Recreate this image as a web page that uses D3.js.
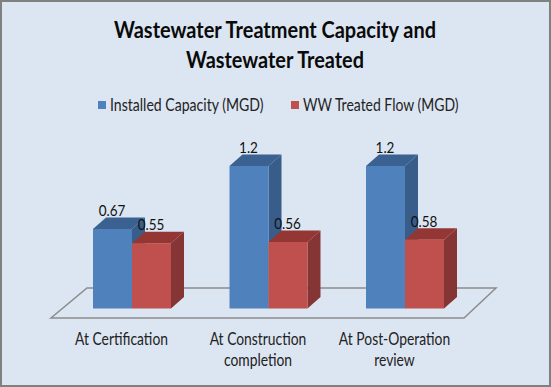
<!DOCTYPE html>
<html>

<head>
    <meta charset="utf-8">
    <title>Wastewater Treatment Capacity</title>
    <script src="https://cdn.jsdelivr.net/npm/d3@7"></script>
    <style>
        html, body { margin: 0; padding: 0; background: #dce6f2; }
        svg { display: block; }
        text { font-family: Lato, "Open Sans", sans-serif; fill: #111; }
        .title { font-size: 23.5px; font-weight: 700; fill: #0a0a0a; }
        .legend text { font-size: 17px; fill: #222; }
        .cat { font-size: 16.5px; fill: #222; }
        .val { font-size: 15.5px; fill: #111; }
    </style>
</head>

<body>
    <svg id="chart" width="551" height="387"></svg>

    <script>
        // values
        const categories = ['At Certification', 'At Construction completion', 'At Post-Operation review'];
        const categoryLines = [['At Certification'], ['At Construction', 'completion'], ['At Post-Operation', 'review']];
        const seriesNames = ['Installed Capacity (MGD)', 'WW Treated Flow (MGD)'];
        const installedCapacity = [0.67, 1.2, 1.2];
        const treatedFlow = [0.55, 0.56, 0.58];
        const titleLines = ['Wastewater Treatment Capacity and', 'Wastewater Treated'];

        const width = 551, height = 387;
        const baseY = 308.5;
        const depthX = 13, depthY = 11.5;

        const colors = [
            { front: '#4f81bd', side: '#385d8a', top: '#3b6191' },
            { front: '#c0504d', side: '#853533', top: '#943634' }
        ];

        const svg = d3.select('#chart');

        // Lato runs wider than the original font, squeeze it to fit
        function squeeze(sel, ratio) {
            sel.each(function () {
                d3.select(this)
                    .attr('textLength', this.getComputedTextLength() * ratio)
                    .attr('lengthAdjust', 'spacingAndGlyphs');
            });
        }

        // panel + border
        svg.append('rect')
            .attr('x', 1).attr('y', 1)
            .attr('width', width - 2).attr('height', height - 2)
            .attr('fill', '#dce6f2')
            .attr('stroke', '#808080')
            .attr('stroke-width', 2);

        // title
        svg.selectAll('.title')
            .data(titleLines)
            .join('text')
            .attr('class', 'title')
            .attr('text-anchor', 'middle')
            .attr('x', 275)
            .attr('y', (d, i) => 38 + i * 30)
            .attr('textLength', (d, i) => i === 0 ? 322 : 178)
            .attr('lengthAdjust', 'spacingAndGlyphs')
            .text(d => d);

        // legend
        const legendX = [98, 291];
        const legendW = [153.5, 155.5];
        const legend = svg.append('g').attr('class', 'legend');
        seriesNames.forEach((name, i) => {
            legend.append('rect')
                .attr('x', legendX[i]).attr('y', 101)
                .attr('width', 8).attr('height', 8)
                .attr('fill', colors[i].front);
            legend.append('text')
                .attr('x', legendX[i] + 12).attr('y', 111)
                .attr('textLength', legendW[i])
                .attr('lengthAdjust', 'spacingAndGlyphs')
                .text(name);
        });

        // scales
        const x = d3.scaleBand()
            .domain(categories)
            .range([63.75, 473.25])
            .paddingInner(1 - 78 / 136.5)
            .paddingOuter((1 - 78 / 136.5) / 2);
        const xSeries = d3.scaleBand()
            .domain([0, 1])
            .range([0, x.bandwidth()]);
        const y = d3.scaleLinear()
            .domain([0, 1.2])
            .range([baseY, 166]);

        // floor of the 3d plot
        const floor = d3.path();
        floor.moveTo(51, 318);
        floor.lineTo(464, 318);
        floor.lineTo(496, 288);
        floor.lineTo(87, 288);
        floor.closePath();
        svg.append('path')
            .attr('d', floor.toString())
            .attr('fill', 'none')
            .attr('stroke', '#8c8c8c')
            .attr('stroke-width', 1.5);

        const rows = categories.map((c, i) => ({
            category: c,
            values: [installedCapacity[i], treatedFlow[i]]
        }));

        // draws one 3d column, red is drawn over the blue side
        function drawBar(g, x0, w, value, c) {
            const y0 = y(value);
            const side = d3.path();
            side.moveTo(x0 + w, y0);
            side.lineTo(x0 + w + depthX, y0 - depthY);
            side.lineTo(x0 + w + depthX, baseY - depthY);
            side.lineTo(x0 + w, baseY);
            side.closePath();
            g.append('path').attr('d', side.toString()).attr('fill', c.side);

            const top = d3.path();
            top.moveTo(x0, y0);
            top.lineTo(x0 + depthX, y0 - depthY);
            top.lineTo(x0 + w + depthX, y0 - depthY);
            top.lineTo(x0 + w, y0);
            top.closePath();
            g.append('path').attr('d', top.toString()).attr('fill', c.top);

            g.append('rect')
                .attr('x', x0).attr('y', y0)
                .attr('width', w).attr('height', baseY - y0)
                .attr('fill', c.front);
        }

        const barLayer = svg.append('g');
        rows.forEach(r => {
            r.values.forEach((v, s) => {
                drawBar(barLayer, x(r.category) + xSeries(s), xSeries.bandwidth(), v, colors[s]);
            });
        });

        // data labels go on top of everything
        rows.forEach(r => {
            r.values.forEach((v, s) => {
                svg.append('text')
                    .attr('class', 'val')
                    .attr('text-anchor', 'middle')
                    .attr('x', x(r.category) + xSeries(s) + xSeries.bandwidth() / 2 - 0.5)
                    .attr('y', y(v) - 13)
                    .text(v)
                    .call(squeeze, 0.87);
            });
        });

        // category labels
        categories.forEach((c, i) => {
            categoryLines[i].forEach((line, j) => {
                svg.append('text')
                    .attr('class', 'cat')
                    .attr('text-anchor', 'middle')
                    .attr('x', x(c) + x.bandwidth() / 2 - 10.5)
                    .attr('y', 345 + j * 21)
                    .text(line)
                    .call(squeeze, 0.84);
            });
        });
    </script>
</body>

</html>
